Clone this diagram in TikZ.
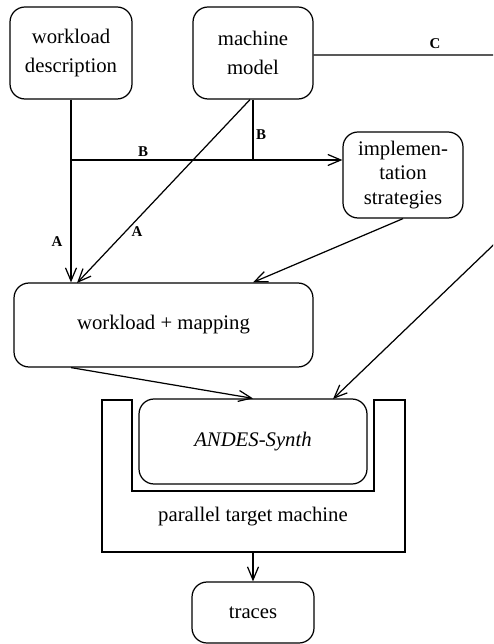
\documentclass[tikz,border=0pt]{standalone}
\usepackage{fontspec}
\setmainfont{Liberation Serif}
\usepackage{tikz}
\usetikzlibrary{arrows.meta,positioning,calc}

\begin{document}
\begin{tikzpicture}[x=0.02cm, y=-0.02cm,
    box/.style={rectangle, draw, rounded corners=0.3cm, align=center,
                font=\fontsize{11.8}{16.5}\selectfont, line width=0.7pt,
                inner sep=0pt},
    arrow/.style={-{Straight Barb[length=2.6mm,width=2.2mm]}, line width=0.7pt},
    link/.style={line width=0.7pt},
    tag/.style={font=\fontsize{8.5}{10}\selectfont\bfseries},
]
\useasboundingbox (0,0) rectangle (493,644);
\clip (0,0) rectangle (493,644);

% sources
\node[box, minimum width=2.44cm, minimum height=1.84cm] (wd) at (71,53) {workload\\description};
\node[box, minimum width=2.4cm, minimum height=1.84cm] (mm) at (253,53) {machine\\model};
\node[box, minimum width=2.4cm, minimum height=1.72cm,
      font=\fontsize{11.8}{14.2}\selectfont] (is) at (403,175) {implemen-\\tation\\strategies};
\node[box, minimum width=5.98cm, minimum height=1.68cm] (wm) at (163.5,325) {workload + mapping};

% target machine
\draw[link] (102,400) -- (102,552) -- (405,552) -- (405,400) -- (374,400)
            -- (374,491) -- (132,491) -- (132,400) -- cycle;
\coordinate (ptm) at (253,552);
\node[font=\fontsize{11.8}{14}\selectfont] (ptmlabel) at (253,517) {parallel target machine};
\node[box, minimum width=4.56cm, minimum height=1.7cm] (andes) at (253,441.5) {\itshape ANDES-Synth};
\node[box, minimum width=2.44cm, minimum height=1.22cm] (traces) at (253,612.5) {traces};

% connectors
\coordinate (jB) at (wd.south |- 0,160);
\coordinate (inA) at (77,283);
\coordinate (cUp) at (510,55);
\coordinate (cDown) at (510,229);
\coordinate (inC) at (333,399);

\draw[arrow] (wd.south) -- (wd.south |- wm.north);
\draw[arrow] (jB) -- (jB -| is.west);
\draw[link] (mm.south) -- (mm.south |- jB);
\draw[arrow] ([xshift=-0.06cm]mm.south) -- (inA);
\draw[arrow] (is.south) -- (mm.south |- wm.north);
\draw[arrow] (wm.south -| wd.south) -- (andes.north);
\draw[arrow] (mm.east |- cUp) -- (cUp) -- (cDown) -- (inC);
\draw[arrow] (ptm) -- (traces.north);

% labels
\node[tag] (lbB1) at (143,152) {B};
\node[tag] (lbB2) at (261,135) {B};
\node[tag] (lbA1) at (57,242) {A};
\node[tag] (lbA2) at (137,232) {A};
\node[tag] (lbC) at (435,44) {C};
\end{tikzpicture}
\end{document}
